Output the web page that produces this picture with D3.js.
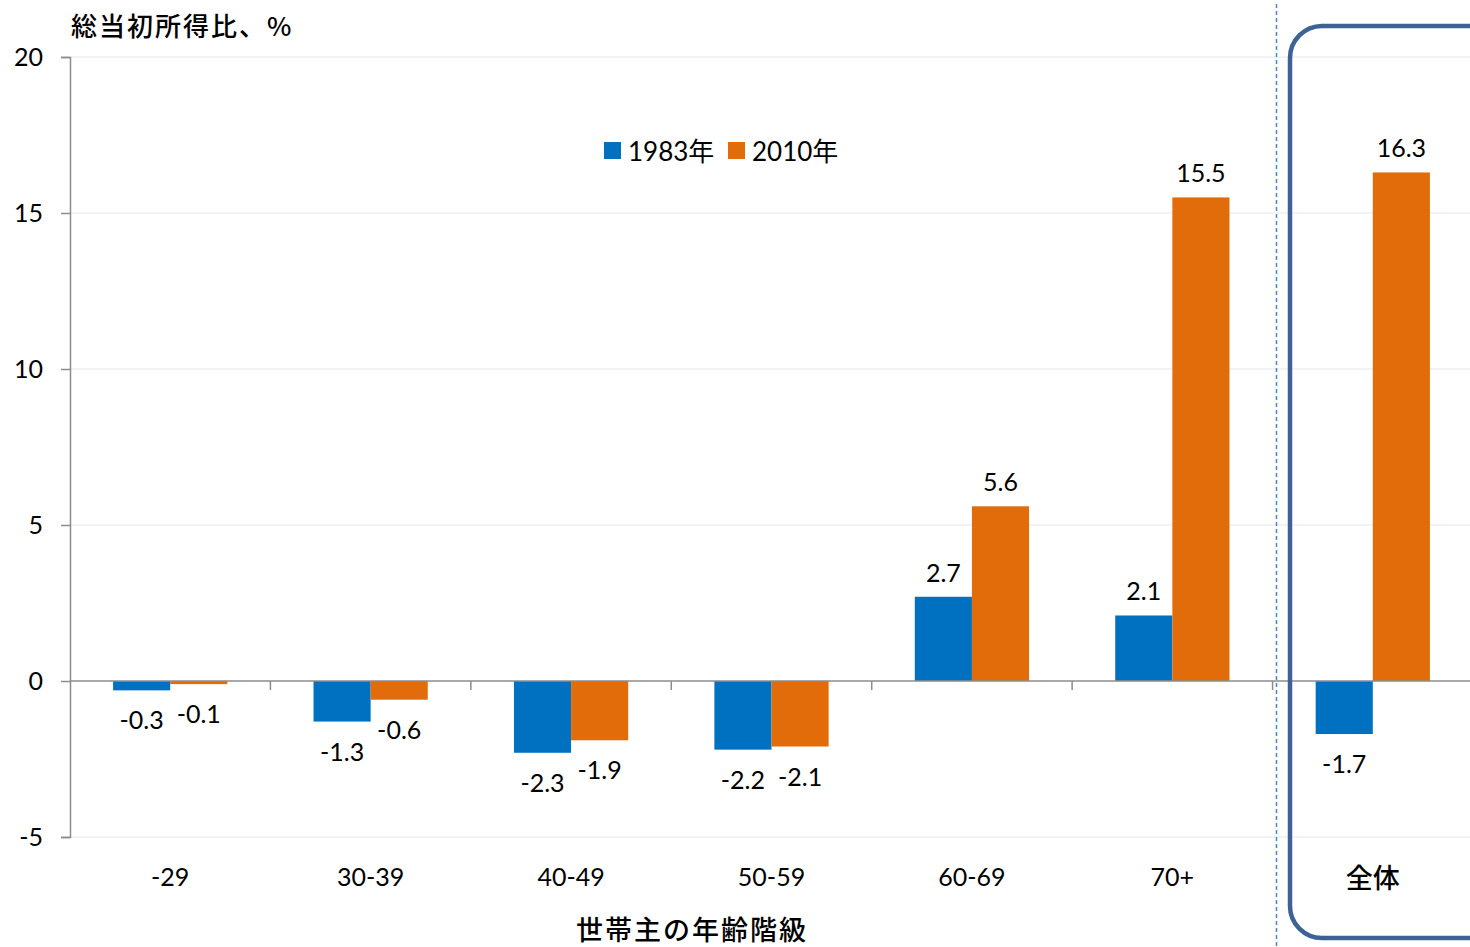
<!DOCTYPE html>
<html>
<head>
<meta charset="utf-8">
<script src="https://cdn.jsdelivr.net/npm/d3@7"></script>
<style>
  html, body { margin: 0; padding: 0; background: #fff; }
  text { font-family: Lato, "Noto Sans CJK JP", sans-serif; fill: #000; }
  .jp { font-family: "Noto Sans CJK JP", sans-serif; }
</style>
</head>
<body>
<svg id="chart" width="1470" height="947"></svg>
<script>
// Age brackets of the household head, plus the overall total
const categories = ["-29", "30-39", "40-49", "50-59", "60-69", "70+", "全体"];
const seriesNames = ["1983年", "2010年"];
const values1983 = [-0.3, -1.3, -2.3, -2.2, 2.7, 2.1, -1.7];
const values2010 = [-0.1, -0.6, -1.9, -2.1, 5.6, 15.5, 16.3];
const yTicks = [-5, 0, 5, 10, 15, 20];
const colors = ["#0070C0", "#E36C0A"];

const svg = d3.select("#chart");

const x = d3.scaleBand().domain(categories).range([70, 1473]).padding(0);
const xInner = d3.scaleBand().domain(seriesNames)
  .range([x.bandwidth() * 0.215, x.bandwidth() * 0.785]).padding(0);
const y = d3.scaleLinear().domain([-5, 20]).range([837, 57]);

// Plain hyphen for negative numbers
const fmtTick = v => String(v);
const fmtVal = v => v.toFixed(1);

// Gridlines
svg.append("g").selectAll("line")
  .data(yTicks.filter(t => t !== 0))
  .join("line")
  .attr("x1", 70).attr("x2", 1470)
  .attr("y1", d => y(d)).attr("y2", d => y(d))
  .attr("stroke", "#EFEFEF").attr("stroke-width", 1.5);

// Y axis
const yAxis = svg.append("g")
  .attr("transform", "translate(70,0)")
  .call(d3.axisLeft(y).tickValues(yTicks).tickFormat(fmtTick).tickSize(9).tickPadding(18));
yAxis.select(".domain").attr("stroke", "#8C8C8C").attr("stroke-width", 1.5);
yAxis.selectAll(".tick line").attr("stroke", "#8C8C8C").attr("stroke-width", 1.5);
yAxis.selectAll(".tick text")
  .style("font-family", "Lato, sans-serif").style("font-size", "25px").attr("fill", "#000");

// Bars
const rows = categories.map((c, i) => ({ cat: c, vals: [values1983[i], values2010[i]] }));
const groups = svg.append("g").selectAll("g")
  .data(rows).join("g")
  .attr("transform", d => `translate(${x(d.cat)},0)`);

groups.selectAll("rect")
  .data(d => d.vals.map((v, j) => ({ name: seriesNames[j], v, j })))
  .join("rect")
  .attr("x", d => xInner(d.name))
  .attr("width", xInner.bandwidth())
  .attr("y", d => Math.min(y(d.v), y(0)))
  .attr("height", d => Math.abs(y(d.v) - y(0)))
  .attr("fill", d => colors[d.j]);

// Value labels
groups.selectAll("text.val")
  .data(d => d.vals.map((v, j) => ({ name: seriesNames[j], v, j })))
  .join("text")
  .attr("class", "val")
  .attr("x", d => xInner(d.name) + xInner.bandwidth() / 2)
  .attr("y", d => d.v >= 0 ? y(d.v) - 25 : y(d.v) + 29)
  .attr("text-anchor", "middle")
  .attr("dominant-baseline", "central")
  .style("font-size", "25px")
  .text(d => fmtVal(d.v));

// X axis (zero line with category ticks)
svg.append("line")
  .attr("x1", 70).attr("x2", 1470)
  .attr("y1", y(0)).attr("y2", y(0))
  .attr("stroke", "#8C8C8C").attr("stroke-width", 1.5);
svg.append("g").selectAll("line")
  .data(categories.slice(1))
  .join("line")
  .attr("x1", d => x(d)).attr("x2", d => x(d))
  .attr("y1", y(0)).attr("y2", y(0) + 9)
  .attr("stroke", "#8C8C8C").attr("stroke-width", 1.5);

// Category labels
svg.append("g").selectAll("text")
  .data(categories)
  .join("text")
  .attr("x", d => x(d) + x.bandwidth() / 2)
  .attr("y", 876)
  .attr("text-anchor", "middle")
  .attr("dominant-baseline", "central")
  .style("font-size", d => d === "全体" ? "27px" : "25px")
  .style("font-family", d => d === "全体" ? "'Noto Sans CJK JP', sans-serif" : null)
  .style("font-weight", d => d === "全体" ? 500 : null)
  .text(d => d);

// Separator before the total column
const sepX = Math.round(x("全体") + 3) + 0.5;
svg.append("line")
  .attr("x1", sepX).attr("x2", sepX)
  .attr("y1", 4).attr("y2", 947)
  .attr("stroke", "#4A86D0").attr("stroke-width", 1.5)
  .attr("stroke-dasharray", "4,3");

// Frame around the total column
svg.append("rect")
  .attr("x", 1290).attr("y", 26)
  .attr("width", 240).attr("height", 912)
  .attr("rx", 32).attr("ry", 32)
  .attr("fill", "none")
  .attr("stroke", "#3D6396").attr("stroke-width", 4.5);

// Legend
const legend = svg.append("g");
const legendItems = [{ name: seriesNames[0], x: 604 }, { name: seriesNames[1], x: 728 }];
legendItems.forEach((it, j) => {
  legend.append("rect")
    .attr("x", it.x).attr("y", 142)
    .attr("width", 17).attr("height", 17)
    .attr("fill", colors[j]);
  legend.append("text")
    .attr("x", it.x + 24).attr("y", 151)
    .attr("dominant-baseline", "central")
    .style("font-size", "26px")
    .text(it.name);
});

// Axis titles
svg.append("text")
  .attr("class", "jp")
  .attr("x", 71).attr("y", 24)
  .attr("dominant-baseline", "central")
  .style("font-size", "26px")
  .style("font-weight", 500)
  .style("letter-spacing", "2px")
  .text("総当初所得比、%");

svg.append("text")
  .attr("class", "jp")
  .attr("x", 692).attr("y", 928)
  .attr("text-anchor", "middle")
  .attr("dominant-baseline", "central")
  .style("font-size", "27px")
  .style("font-weight", 500)
  .style("letter-spacing", "2px")
  .text("世帯主の年齢階級");
</script>
</body>
</html>
